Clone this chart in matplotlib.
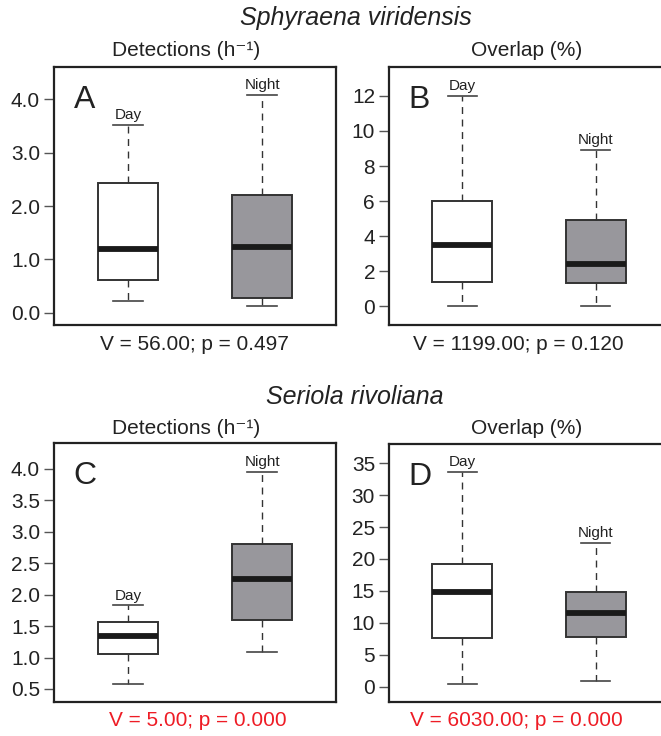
import matplotlib
matplotlib.use('Agg')
import matplotlib.pyplot as plt

plt.rcParams['font.family'] = ['Liberation Sans', 'DejaVu Sans']

# five-number summaries: [whisker low, q1, median, q3, whisker high]
det_sv_day = [0.21, 0.61, 1.19, 2.43, 3.53]
det_sv_night = [0.12, 0.28, 1.23, 2.21, 4.08]
ovl_sv_day = [0.0, 1.39, 3.51, 6.01, 12.0]
ovl_sv_night = [0.0, 1.31, 2.41, 4.90, 8.91]
det_sr_day = [0.58, 1.06, 1.34, 1.57, 1.83]
det_sr_night = [1.09, 1.60, 2.25, 2.81, 3.95]
ovl_sr_day = [0.47, 7.68, 14.9, 19.18, 33.6]
ovl_sr_night = [0.89, 7.84, 11.5, 14.84, 22.47]

groups = ['Day', 'Night']
species = ['Sphyraena viridensis', 'Seriola rivoliana']
metrics = ['Detections (h\u207b\u00b9)', 'Overlap (%)']
letters = ['A', 'B', 'C', 'D']
stats_text = ['V = 56.00; p = 0.497', 'V = 1199.00; p = 0.120',
              'V = 5.00; p = 0.000', 'V = 6030.00; p = 0.000']
stats_color = ['#222222', '#222222', '#ee1c25', '#ee1c25']

ticks_A = [0, 1, 2, 3, 4]
ticks_B = [0, 2, 4, 6, 8, 10, 12]
ticks_C = [0.5, 1.0, 1.5, 2.0, 2.5, 3.0, 3.5, 4.0]
ticks_D = [0, 5, 10, 15, 20, 25, 30, 35]

panels = [
    (det_sv_day, det_sv_night, (-0.225, 4.61), ticks_A, '%.1f'),
    (ovl_sv_day, ovl_sv_night, (-1.04, 13.65), ticks_B, '%d'),
    (det_sr_day, det_sr_night, (0.293, 4.41), ticks_C, '%.1f'),
    (ovl_sr_day, ovl_sr_night, (-2.4, 38.0), ticks_D, '%d'),
]

W, H = 661, 736
fig = plt.figure(figsize=(W / 100, H / 100), dpi=100)

# axes boxes in pixels: left, top, right, bottom
boxes = [(54, 67, 336, 324.5), (389, 67, 669, 324.5),
         (54, 443, 336, 702), (389, 444, 669, 702)]

dark = '#222222'
for i, (day, night, ylim, ticks, fmt) in enumerate(panels):
    l, t, r, b = boxes[i]
    ax = fig.add_axes([l / W, 1 - b / H, (r - l) / W, (b - t) / H])
    stats = []
    for name, s in zip(groups, [day, night]):
        stats.append(dict(whislo=s[0], q1=s[1], med=s[2], q3=s[3], whishi=s[4], label=name))
    bp = ax.bxp(stats, positions=[1, 2], widths=0.45, capwidths=0.22,
                showfliers=False, patch_artist=True,
                boxprops=dict(edgecolor='#333333', linewidth=1.4),
                medianprops=dict(color='#1a1a1a', linewidth=4.2, solid_capstyle='butt'),
                whiskerprops=dict(color='#333333', linewidth=1.0, linestyle=(0, (5, 4))),
                capprops=dict(color='#444444', linewidth=1.2))
    for patch, fc in zip(bp['boxes'], ['white', '#98979c']):
        patch.set_facecolor(fc)
    for pos, name, s in zip([1, 2], groups, [day, night]):
        ax.annotate(name, (pos, s[4]), xytext=(0, 2), textcoords='offset points',
                    ha='center', va='bottom', fontsize=11, color=dark)
    ax.set_xlim(0.45, 2.55)
    ax.set_ylim(*ylim)
    ax.set_yticks(ticks)
    ax.set_yticklabels([fmt % v for v in ticks])
    ax.set_xticks([])
    ax.tick_params(axis='y', direction='out', length=7, width=1, color='#555555',
                   labelsize=15, labelcolor=dark, pad=3)
    for sp in ax.spines.values():
        sp.set_linewidth(1.6)
        sp.set_color(dark)
    ax.text(0.07, 0.93, letters[i], transform=ax.transAxes, ha='left', va='top',
            fontsize=23, color=dark)

# species titles, metric headers, test statistics
fig.text(356 / W, 1 - 18 / H, species[0], ha='center', va='center',
         fontsize=18, style='italic', color=dark)
fig.text(355 / W, 1 - 397 / H, species[1], ha='center', va='center',
         fontsize=18, style='italic', color=dark)
for y in [51, 428]:
    fig.text(186 / W, 1 - y / H, metrics[0], ha='center', va='center', fontsize=15, color=dark)
    fig.text(527 / W, 1 - y / H, metrics[1], ha='center', va='center', fontsize=15, color=dark)

stat_pos = [(194, 344), (518, 344), (198, 721), (516, 721)]
for (x, y), s, c in zip(stat_pos, stats_text, stats_color):
    fig.text(x / W, 1 - y / H, s, ha='center', va='center', fontsize=15, color=c)

fig.savefig('out.png', dpi=100)
